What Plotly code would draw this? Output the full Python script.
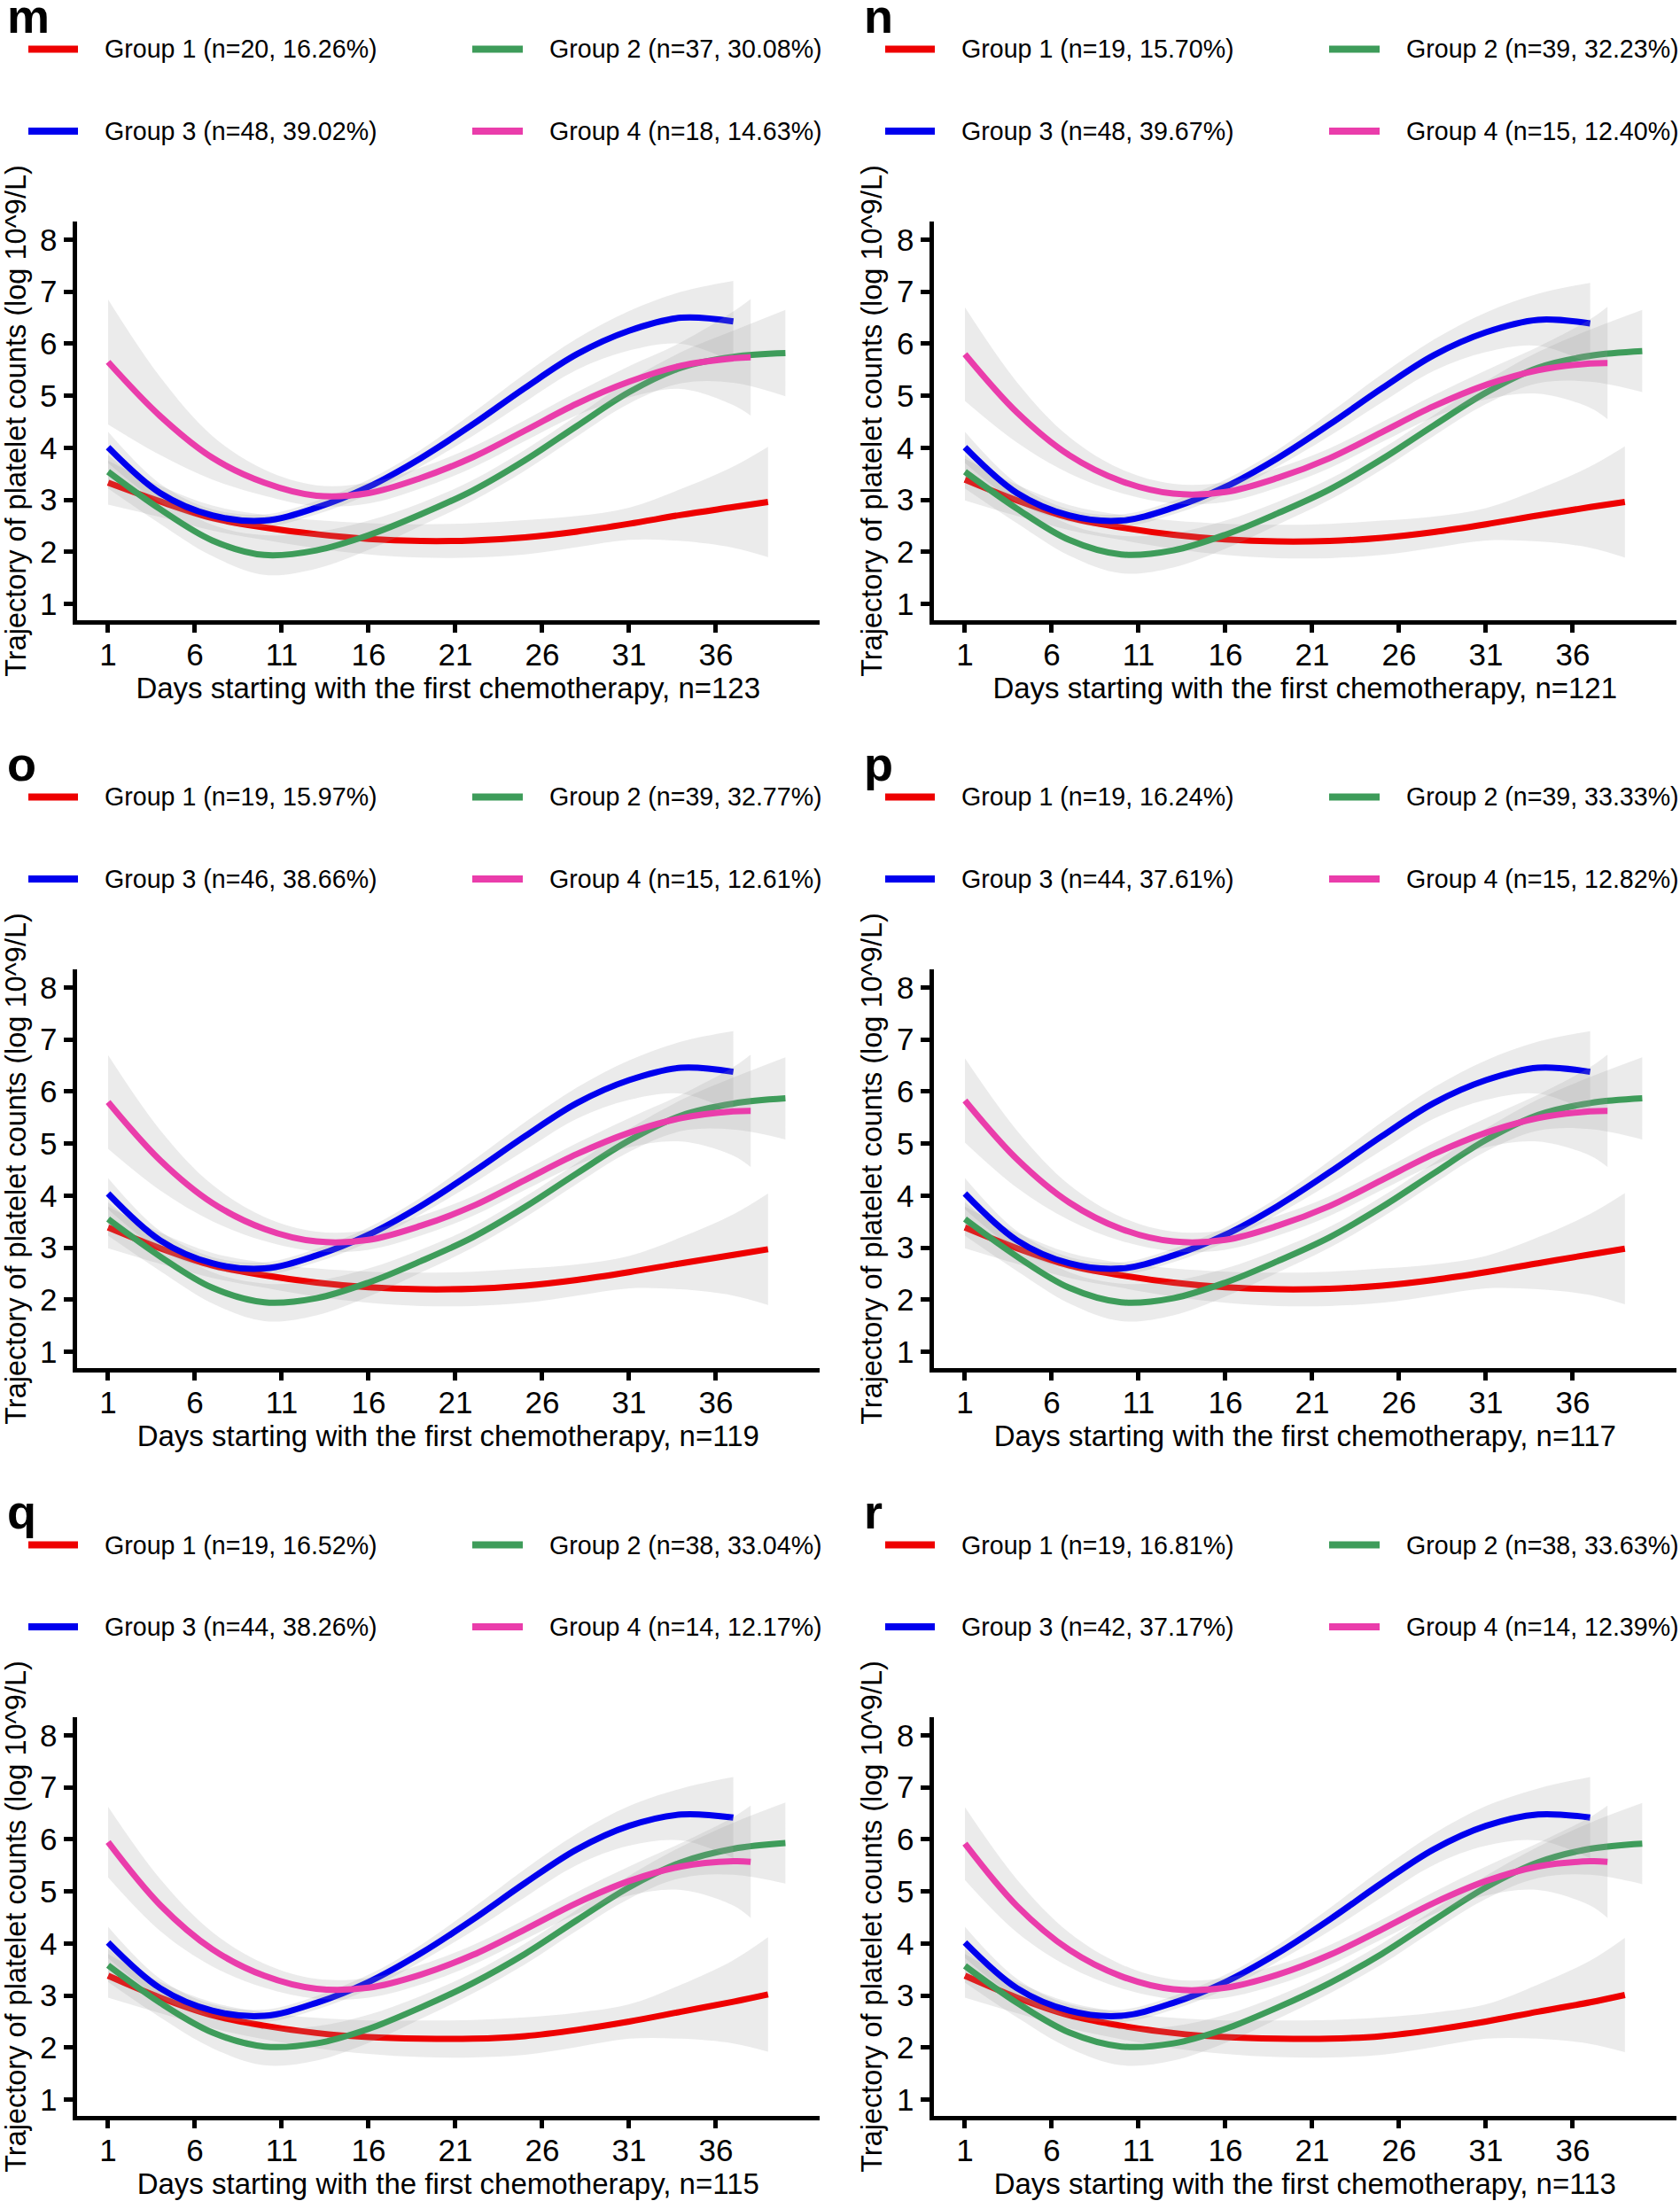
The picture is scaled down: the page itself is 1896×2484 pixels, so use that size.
import plotly.graph_objects as go

# ---------------- data ----------------
PANELS = ["m", "n", "o", "p", "q", "r"]
TOTAL_N = [123, 121, 119, 117, 115, 113]
GROUP_NAMES = ["Group 1", "Group 2", "Group 3", "Group 4"]
COLORS = ["#EE0000", "#3E9C5A", "#0000EE", "#EA3DAB"]

X_TICKS = [1, 6, 11, 16, 21, 26, 31, 36]
Y_TICKS = [1, 2, 3, 4, 5, 6, 7, 8]

M_N = [20, 37, 48, 18]; M_PCT = ["16.26", "30.08", "39.02", "14.63"]
N_N = [19, 39, 48, 15]; N_PCT = ["15.70", "32.23", "39.67", "12.40"]
O_N = [19, 39, 46, 15]; O_PCT = ["15.97", "32.77", "38.66", "12.61"]
P_N = [19, 39, 44, 15]; P_PCT = ["16.24", "33.33", "37.61", "12.82"]
Q_N = [19, 38, 44, 14]; Q_PCT = ["16.52", "33.04", "38.26", "12.17"]
R_N = [19, 38, 42, 14]; R_PCT = ["16.81", "33.63", "37.17", "12.39"]

DAYS_G1 = [1, 4, 7, 10, 13, 16, 19, 22, 25, 28, 31, 34, 37, 39]
DAYS_G2 = [1, 4, 7, 10, 13, 16, 19, 22, 25, 28, 31, 34, 37, 40]
DAYS_G3 = [1, 4, 7, 10, 13, 16, 19, 22, 25, 28, 31, 34, 37]
DAYS_G4 = [1, 4, 7, 10, 13, 16, 19, 22, 25, 28, 31, 34, 37, 38]

# panel m
M_G1_MEAN = [3.33, 2.97, 2.65, 2.47, 2.34, 2.25, 2.21, 2.22, 2.28, 2.39, 2.54, 2.71, 2.86, 2.96]
M_G1_CI = [0.42, 0.30, 0.24, 0.24, 0.27, 0.30, 0.32, 0.33, 0.33, 0.30, 0.31, 0.50, 0.78, 1.06]
M_G2_MEAN = [3.54, 2.82, 2.22, 1.94, 2.03, 2.32, 2.72, 3.18, 3.76, 4.42, 5.07, 5.54, 5.75, 5.82]
M_G2_CI = [0.32, 0.28, 0.30, 0.38, 0.35, 0.28, 0.22, 0.20, 0.20, 0.20, 0.22, 0.30, 0.50, 0.83]
M_G3_MEAN = [4.01, 3.13, 2.70, 2.60, 2.85, 3.25, 3.80, 4.45, 5.15, 5.80, 6.25, 6.50, 6.43]
M_G3_CI = [0.30, 0.18, 0.12, 0.12, 0.13, 0.14, 0.16, 0.22, 0.27, 0.30, 0.38, 0.50, 0.78]
M_G4_MEAN = [5.65, 4.61, 3.81, 3.33, 3.08, 3.13, 3.42, 3.82, 4.33, 4.85, 5.27, 5.58, 5.72, 5.74]
M_G4_CI = [1.20, 0.75, 0.42, 0.25, 0.20, 0.20, 0.20, 0.20, 0.20, 0.22, 0.30, 0.45, 0.90, 1.12]

# panel n
N_G1_MEAN = [3.39, 2.99, 2.66, 2.47, 2.33, 2.24, 2.20, 2.21, 2.27, 2.38, 2.53, 2.70, 2.86, 2.96]
N_G1_CI = [0.40, 0.30, 0.24, 0.24, 0.27, 0.30, 0.32, 0.33, 0.33, 0.30, 0.31, 0.50, 0.78, 1.07]
N_G2_MEAN = [3.54, 2.83, 2.23, 1.95, 2.03, 2.33, 2.74, 3.20, 3.78, 4.43, 5.06, 5.54, 5.77, 5.86]
N_G2_CI = [0.32, 0.28, 0.30, 0.36, 0.33, 0.27, 0.22, 0.20, 0.20, 0.20, 0.22, 0.30, 0.50, 0.79]
N_G3_MEAN = [4.01, 3.13, 2.70, 2.60, 2.85, 3.25, 3.80, 4.45, 5.14, 5.78, 6.22, 6.46, 6.39]
N_G3_CI = [0.30, 0.18, 0.12, 0.12, 0.13, 0.14, 0.16, 0.22, 0.27, 0.30, 0.38, 0.50, 0.78]
N_G4_MEAN = [5.80, 4.68, 3.86, 3.36, 3.12, 3.15, 3.42, 3.80, 4.30, 4.80, 5.21, 5.49, 5.62, 5.63]
N_G4_CI = [0.90, 0.58, 0.35, 0.23, 0.19, 0.19, 0.19, 0.19, 0.19, 0.21, 0.28, 0.45, 0.85, 1.08]

# panel o
O_G1_MEAN = [3.39, 2.99, 2.66, 2.47, 2.33, 2.24, 2.20, 2.21, 2.27, 2.38, 2.53, 2.70, 2.86, 2.97]
O_G1_CI = [0.40, 0.30, 0.24, 0.24, 0.27, 0.30, 0.32, 0.33, 0.33, 0.30, 0.31, 0.50, 0.78, 1.07]
O_G2_MEAN = [3.55, 2.83, 2.23, 1.95, 2.03, 2.33, 2.74, 3.20, 3.78, 4.43, 5.06, 5.54, 5.77, 5.87]
O_G2_CI = [0.32, 0.28, 0.30, 0.36, 0.33, 0.27, 0.22, 0.20, 0.20, 0.20, 0.22, 0.30, 0.50, 0.79]
O_G3_MEAN = [4.04, 3.14, 2.70, 2.60, 2.85, 3.25, 3.80, 4.45, 5.14, 5.78, 6.22, 6.46, 6.38]
O_G3_CI = [0.30, 0.18, 0.12, 0.12, 0.13, 0.14, 0.16, 0.22, 0.27, 0.30, 0.38, 0.50, 0.78]
O_G4_MEAN = [5.80, 4.68, 3.86, 3.36, 3.12, 3.15, 3.42, 3.80, 4.30, 4.80, 5.21, 5.49, 5.62, 5.63]
O_G4_CI = [0.90, 0.58, 0.35, 0.23, 0.19, 0.19, 0.19, 0.19, 0.19, 0.21, 0.28, 0.45, 0.85, 1.08]

# panel p
P_G1_MEAN = [3.39, 2.99, 2.66, 2.47, 2.33, 2.24, 2.20, 2.21, 2.27, 2.38, 2.53, 2.70, 2.87, 2.98]
P_G1_CI = [0.40, 0.30, 0.24, 0.24, 0.27, 0.30, 0.32, 0.33, 0.33, 0.30, 0.31, 0.50, 0.78, 1.07]
P_G2_MEAN = [3.55, 2.83, 2.23, 1.95, 2.03, 2.33, 2.74, 3.20, 3.78, 4.43, 5.07, 5.55, 5.78, 5.87]
P_G2_CI = [0.32, 0.28, 0.30, 0.36, 0.33, 0.27, 0.22, 0.20, 0.20, 0.20, 0.22, 0.30, 0.50, 0.79]
P_G3_MEAN = [4.04, 3.14, 2.70, 2.60, 2.85, 3.25, 3.80, 4.45, 5.14, 5.78, 6.22, 6.46, 6.38]
P_G3_CI = [0.30, 0.18, 0.12, 0.12, 0.13, 0.14, 0.16, 0.22, 0.27, 0.30, 0.38, 0.50, 0.78]
P_G4_MEAN = [5.83, 4.70, 3.87, 3.36, 3.12, 3.15, 3.42, 3.80, 4.30, 4.80, 5.21, 5.49, 5.62, 5.63]
P_G4_CI = [0.81, 0.55, 0.34, 0.23, 0.19, 0.19, 0.19, 0.19, 0.19, 0.21, 0.28, 0.45, 0.85, 1.08]

# panel q
Q_G1_MEAN = [3.38, 2.96, 2.62, 2.42, 2.28, 2.20, 2.17, 2.17, 2.22, 2.34, 2.50, 2.69, 2.88, 3.02]
Q_G1_CI = [0.42, 0.30, 0.25, 0.26, 0.29, 0.32, 0.35, 0.36, 0.36, 0.33, 0.33, 0.52, 0.80, 1.10]
Q_G2_MEAN = [3.58, 2.86, 2.29, 2.02, 2.08, 2.36, 2.77, 3.24, 3.80, 4.45, 5.08, 5.56, 5.82, 5.93]
Q_G2_CI = [0.32, 0.28, 0.30, 0.36, 0.33, 0.27, 0.22, 0.20, 0.20, 0.20, 0.22, 0.30, 0.50, 0.78]
Q_G3_MEAN = [4.02, 3.14, 2.71, 2.61, 2.86, 3.26, 3.81, 4.46, 5.16, 5.81, 6.26, 6.48, 6.42]
Q_G3_CI = [0.30, 0.18, 0.12, 0.12, 0.13, 0.14, 0.16, 0.22, 0.27, 0.30, 0.38, 0.50, 0.78]
Q_G4_MEAN = [5.95, 4.74, 3.89, 3.38, 3.13, 3.15, 3.40, 3.78, 4.27, 4.78, 5.20, 5.48, 5.58, 5.57]
Q_G4_CI = [0.68, 0.50, 0.33, 0.23, 0.19, 0.19, 0.19, 0.19, 0.19, 0.21, 0.28, 0.45, 0.85, 1.08]

# panel r
R_G1_MEAN = [3.38, 2.96, 2.62, 2.42, 2.28, 2.20, 2.17, 2.17, 2.22, 2.34, 2.50, 2.69, 2.87, 3.01]
R_G1_CI = [0.42, 0.30, 0.25, 0.26, 0.29, 0.32, 0.35, 0.36, 0.36, 0.33, 0.33, 0.52, 0.80, 1.10]
R_G2_MEAN = [3.57, 2.86, 2.29, 2.02, 2.08, 2.36, 2.77, 3.24, 3.80, 4.45, 5.08, 5.56, 5.82, 5.92]
R_G2_CI = [0.32, 0.28, 0.30, 0.36, 0.33, 0.27, 0.22, 0.20, 0.20, 0.20, 0.22, 0.30, 0.50, 0.78]
R_G3_MEAN = [4.02, 3.14, 2.71, 2.61, 2.86, 3.26, 3.81, 4.46, 5.16, 5.81, 6.26, 6.48, 6.42]
R_G3_CI = [0.30, 0.18, 0.12, 0.12, 0.13, 0.14, 0.16, 0.22, 0.27, 0.30, 0.38, 0.50, 0.78]
R_G4_MEAN = [5.92, 4.72, 3.88, 3.37, 3.12, 3.15, 3.40, 3.78, 4.27, 4.78, 5.20, 5.48, 5.58, 5.57]
R_G4_CI = [0.70, 0.51, 0.33, 0.23, 0.19, 0.19, 0.19, 0.19, 0.19, 0.21, 0.28, 0.45, 0.85, 1.08]

# ---------------- assembly ----------------
DAYS = [DAYS_G1, DAYS_G2, DAYS_G3, DAYS_G4]
PANEL_MEANS = [
    [M_G1_MEAN, M_G2_MEAN, M_G3_MEAN, M_G4_MEAN],
    [N_G1_MEAN, N_G2_MEAN, N_G3_MEAN, N_G4_MEAN],
    [O_G1_MEAN, O_G2_MEAN, O_G3_MEAN, O_G4_MEAN],
    [P_G1_MEAN, P_G2_MEAN, P_G3_MEAN, P_G4_MEAN],
    [Q_G1_MEAN, Q_G2_MEAN, Q_G3_MEAN, Q_G4_MEAN],
    [R_G1_MEAN, R_G2_MEAN, R_G3_MEAN, R_G4_MEAN],
]
PANEL_CIS = [
    [M_G1_CI, M_G2_CI, M_G3_CI, M_G4_CI],
    [N_G1_CI, N_G2_CI, N_G3_CI, N_G4_CI],
    [O_G1_CI, O_G2_CI, O_G3_CI, O_G4_CI],
    [P_G1_CI, P_G2_CI, P_G3_CI, P_G4_CI],
    [Q_G1_CI, Q_G2_CI, Q_G3_CI, Q_G4_CI],
    [R_G1_CI, R_G2_CI, R_G3_CI, R_G4_CI],
]
PANEL_NS = [M_N, N_N, O_N, P_N, Q_N, R_N]
PANEL_PCTS = [M_PCT, N_PCT, O_PCT, P_PCT, Q_PCT, R_PCT]

W, H = 1896, 2484
FONT = "Liberation Sans, Arial, Helvetica, sans-serif"
COL_OFF = [0, 967]
ROW_OFF = [0, 844, 1688]
PLOT_L, PLOT_R, PLOT_T, PLOT_B = 86.5, 925.0, 250.0, 700.0
X_RANGE = [-0.81, 41.97]
Y_RANGE = [0.686, 8.349]
RIBBON = "rgba(153,153,153,0.2)"


def fx(px):
    return px / W


def fy(py):
    return 1 - py / H


fig = go.Figure()
layout_axes = {}
annotations = []
shapes = []

for k, letter in enumerate(PANELS):
    col = k % 2
    row = k // 2
    cx, ry = COL_OFF[col], ROW_OFF[row]
    s = "" if k == 0 else str(k + 1)
    xref, yref = "x" + s, "y" + s

    for g in range(4):
        d = DAYS[g]
        mean = PANEL_MEANS[k][g]
        ci = PANEL_CIS[k][g]
        lo = [m - c for m, c in zip(mean, ci)]
        hi = [m + c for m, c in zip(mean, ci)]
        fig.add_trace(go.Scatter(x=d, y=lo, mode="lines", xaxis=xref, yaxis=yref,
                                 line=dict(width=0, shape="spline"), hoverinfo="skip",
                                 showlegend=False))
        fig.add_trace(go.Scatter(x=d, y=hi, mode="lines", xaxis=xref, yaxis=yref,
                                 fill="tonexty", fillcolor=RIBBON,
                                 line=dict(width=0, shape="spline"), hoverinfo="skip",
                                 showlegend=False))
        fig.add_trace(go.Scatter(x=d, y=mean, mode="lines", xaxis=xref, yaxis=yref,
                                 name=GROUP_NAMES[g],
                                 line=dict(color=COLORS[g], width=7, shape="spline"),
                                 showlegend=False))

    layout_axes["xaxis" + s] = dict(
        domain=[fx(PLOT_L + cx), fx(PLOT_R + cx)], range=X_RANGE, anchor=yref,
        tickmode="array", tickvals=X_TICKS, ticks="outside", ticklen=9, tickwidth=5,
        tickcolor="black", showline=True, linewidth=5, linecolor="black",
        showgrid=False, zeroline=False, fixedrange=True, ticklabelstandoff=-5,
        tickfont=dict(family=FONT, size=35, color="black"),
        title=dict(text=f"Days starting with the first chemotherapy, n={TOTAL_N[k]}",
                   font=dict(family=FONT, size=33, color="black"), standoff=6),
    )
    layout_axes["yaxis" + s] = dict(
        domain=[fy(PLOT_B + ry), fy(PLOT_T + ry)], range=Y_RANGE, anchor=xref,
        tickmode="array", tickvals=Y_TICKS, ticks="outside", ticklen=10, tickwidth=5,
        tickcolor="black", showline=True, linewidth=5, linecolor="black",
        showgrid=False, zeroline=False, fixedrange=True,
        tickfont=dict(family=FONT, size=35, color="black"),
        title=dict(text="Trajectory of platelet counts (log 10^9/L)",
                   font=dict(family=FONT, size=32.5, color="black"), standoff=8),
    )

    # panel letter
    annotations.append(dict(text=f"<b>{letter}</b>", x=fx(6 + cx), y=fy(17.5 + ry),
                            xref="paper", yref="paper", xanchor="left", yanchor="middle",
                            showarrow=False, font=dict(family=FONT, size=54, color="black")))

    # legend (2 x 2)
    sample_x = [(32, 88), (533, 590)]
    text_x = [116, 618]
    row_y = [55.5, 148]
    for g in range(4):
        c2 = g % 2
        r2 = g // 2
        y = row_y[r2] + ry
        shapes.append(dict(type="line", xref="paper", yref="paper",
                           x0=fx(sample_x[c2][0] + cx), x1=fx(sample_x[c2][1] + cx),
                           y0=fy(y), y1=fy(y),
                           line=dict(color=COLORS[g], width=8)))
        label = f"{GROUP_NAMES[g]} (n={PANEL_NS[k][g]}, {PANEL_PCTS[k][g]}%)"
        annotations.append(dict(text=label, x=fx(text_x[c2] + cx), y=fy(y),
                                xref="paper", yref="paper", xanchor="left", yanchor="middle",
                                showarrow=False, font=dict(family=FONT, size=28.6, color="black")))

fig.update_layout(
    width=W, height=H, margin=dict(l=0, r=0, t=0, b=0),
    paper_bgcolor="white", plot_bgcolor="white", showlegend=False,
    font=dict(family=FONT, color="black"),
    annotations=annotations, shapes=shapes,
    **layout_axes,
)

fig.write_html(
    "out.html",
    config={"displayModeBar": False},
    post_script="document.body.style.margin='0';document.documentElement.style.overflow='hidden';",
)
